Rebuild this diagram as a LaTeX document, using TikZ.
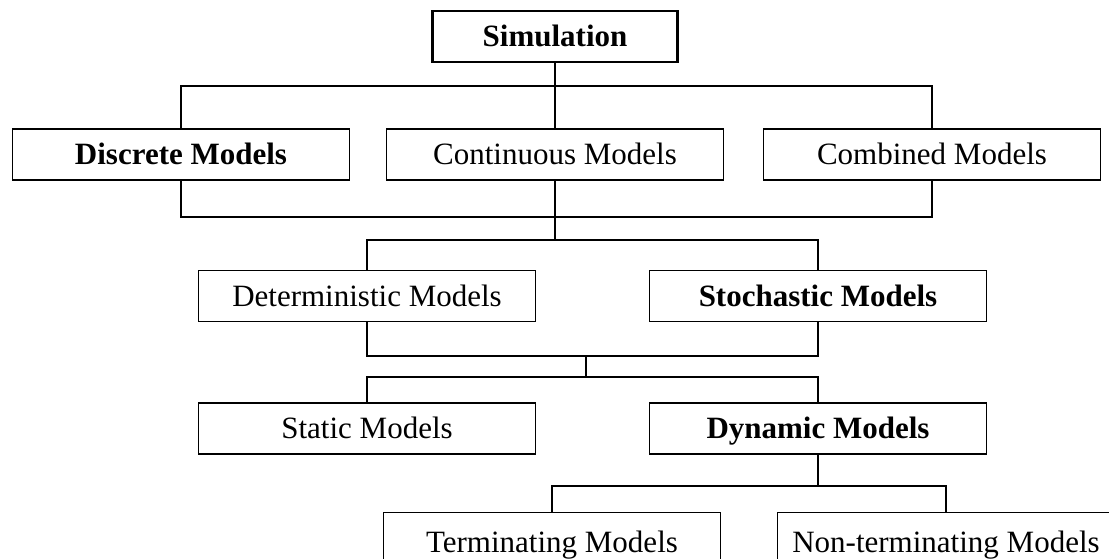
\documentclass[tikz,border=0pt]{standalone}
\usepackage{fontspec}
\setmainfont{Liberation Serif}
\begin{document}
\begin{tikzpicture}[x=1pt,y=-1pt,
  box/.style={draw, line width=1.3pt, minimum width=337pt, minimum height=51pt,
    inner sep=0pt, font=\fontsize{31}{36}\selectfont, text height=20.5pt, text depth=0pt},
  bold/.style={font=\fontsize{31}{36}\selectfont\bfseries},
  tall/.style={minimum height=60pt},
  conn/.style={line width=2pt}]
\useasboundingbox (0,0) rectangle (1109,558);
\clip (0,0) rectangle (1109,558);
\fill[white] (0,0) rectangle (1109,558);

\node[box, bold, line width=2.6pt, minimum width=245pt] (sim) at (555,36.5) {Simulation};
\node[box, bold] (disc) at (181,154.5) {Discrete Models};
\node[box] (cont) at (555,154.5) {Continuous Models};
\node[box] (comb) at (932,154.5) {Combined Models};
\node[box] (det) at (367,296) {Deterministic Models};
\node[box, bold] (sto) at (818,296) {Stochastic Models};
\node[box] (stat) at (367,428.5) {Static Models};
\node[box, bold] (dyn) at (818,428.5) {Dynamic Models};
\node[box, tall] (term) at (552,542.5) {Terminating Models};
\node[box, tall] (nont) at (946,542.5) {Non-terminating Models};

\coordinate (t1) at (555,86);
\coordinate (b1) at (555,217);
\coordinate (j1) at (555,240);
\coordinate (b2) at (586,356);
\coordinate (j2) at (586,377);
\coordinate (j3) at (818,486);

\draw[conn] (sim.south) -- (cont.north);
\draw[conn] (disc.north) |- (t1) -| (comb.north);
\draw[conn] (disc.south) |- (b1) -| (comb.south);
\draw[conn] (cont.south) -- (j1);
\draw[conn] (det.north) |- (j1) -| (sto.north);
\draw[conn] (det.south) |- (b2) -| (sto.south);
\draw[conn] (b2) -- (j2);
\draw[conn] (stat.north) |- (j2) -| (dyn.north);
\draw[conn] (dyn.south) -- (j3);
\draw[conn] (term.north) |- (j3) -| (nont.north);
\end{tikzpicture}
\end{document}
